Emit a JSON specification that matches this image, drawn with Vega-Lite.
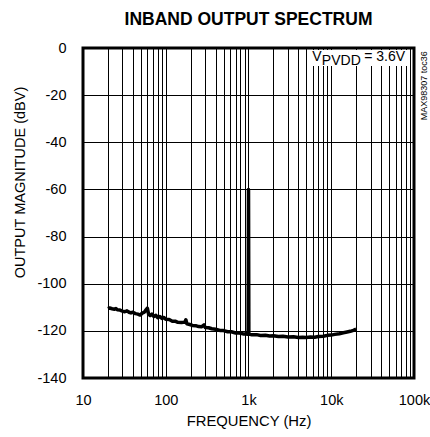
{
  "$schema": "https://vega.github.io/schema/vega-lite/v6.json",
  "width": 331,
  "height": 330,
  "autosize": {"type": "none"},
  "padding": {"left": 83, "top": 48, "right": 16, "bottom": 59},
  "background": "white",
  "title": {
    "text": "INBAND OUTPUT SPECTRUM",
    "font": "Liberation Sans",
    "fontSize": 17.5,
    "fontWeight": "bold",
    "color": "black",
    "anchor": "middle",
    "offset": 12
  },
  "config": {
    "view": {"stroke": "black", "strokeWidth": 3},
    "axis": {
      "labelFont": "Liberation Sans",
      "titleFont": "Liberation Sans",
      "labelColor": "black",
      "titleColor": "black",
      "titleFontWeight": "normal",
      "gridColor": "black",
      "gridOpacity": 1,
      "gridWidth": 1,
      "ticks": false,
      "domain": false
    }
  },
  "datasets": {
    "curve": [
      {"f": 20, "db": -110.6}, {"f": 21, "db": -110.3}, {"f": 22.5, "db": -110.6}, {"f": 24, "db": -110.8},
      {"f": 25, "db": -110.5}, {"f": 26, "db": -111.1}, {"f": 28, "db": -111.2}, {"f": 30, "db": -111.6},
      {"f": 32, "db": -111.9}, {"f": 34, "db": -111.5}, {"f": 36, "db": -112.1}, {"f": 38, "db": -112.4},
      {"f": 40, "db": -112.1}, {"f": 43, "db": -112.7}, {"f": 46, "db": -112.9}, {"f": 49, "db": -113.3},
      {"f": 52, "db": -112.5}, {"f": 55, "db": -112.1}, {"f": 58, "db": -111.0}, {"f": 60, "db": -110.4},
      {"f": 62, "db": -112.9}, {"f": 65, "db": -113.5}, {"f": 68, "db": -112.9}, {"f": 72, "db": -113.9},
      {"f": 76, "db": -113.4}, {"f": 80, "db": -114.4}, {"f": 85, "db": -113.9}, {"f": 90, "db": -114.7},
      {"f": 95, "db": -114.3}, {"f": 100, "db": -115.1}, {"f": 110, "db": -115.2}, {"f": 120, "db": -115.9},
      {"f": 130, "db": -115.9}, {"f": 140, "db": -116.4}, {"f": 155, "db": -116.5}, {"f": 170, "db": -116.3},
      {"f": 175, "db": -115.3}, {"f": 180, "db": -117.0}, {"f": 195, "db": -117.3}, {"f": 210, "db": -117.7},
      {"f": 230, "db": -117.8}, {"f": 250, "db": -118.2}, {"f": 270, "db": -118.3}, {"f": 290, "db": -117.5},
      {"f": 300, "db": -118.6}, {"f": 330, "db": -118.7}, {"f": 360, "db": -119.1}, {"f": 400, "db": -119.3},
      {"f": 450, "db": -119.8}, {"f": 500, "db": -119.9}, {"f": 560, "db": -120.4}, {"f": 620, "db": -120.4},
      {"f": 700, "db": -120.9}, {"f": 780, "db": -120.9}, {"f": 860, "db": -121.3}, {"f": 930, "db": -121.3},
      {"f": 990, "db": -121.5}, {"f": 1000, "db": -60}, {"f": 1010, "db": -121.4}, {"f": 1100, "db": -121.7},
      {"f": 1250, "db": -121.6}, {"f": 1400, "db": -122.0}, {"f": 1600, "db": -121.9}, {"f": 1800, "db": -122.2},
      {"f": 2000, "db": -122.1}, {"f": 2300, "db": -122.4}, {"f": 2600, "db": -122.3}, {"f": 3000, "db": -122.6},
      {"f": 3500, "db": -122.5}, {"f": 4000, "db": -122.8}, {"f": 4500, "db": -122.7}, {"f": 5000, "db": -122.8},
      {"f": 5600, "db": -122.6}, {"f": 6300, "db": -122.7}, {"f": 7000, "db": -122.4}, {"f": 8000, "db": -122.3},
      {"f": 9000, "db": -121.9}, {"f": 10000, "db": -121.8}, {"f": 11000, "db": -121.5}, {"f": 12500, "db": -121.2},
      {"f": 14000, "db": -120.8}, {"f": 15500, "db": -120.5}, {"f": 17000, "db": -120.2}, {"f": 18500, "db": -119.8},
      {"f": 20000, "db": -119.3}
    ],
    "box": [{"f": 5740, "f2": 89500, "db": -0.9, "db2": -7.6}],
    "notes": [
      {"f": 5900, "db": -5.4, "label": "V"},
      {"f": 7700, "db": -7.1, "label": "PVDD"},
      {"f": 25000, "db": -5.4, "label": "= 3.6V"}
    ],
    "tag": [{"f": 132000, "db": -16, "label": "MAX98307 toc36"}]
  },
  "encoding": {
    "x": {
      "field": "f",
      "type": "quantitative",
      "scale": {"type": "log", "domain": [10, 100000], "nice": false},
      "axis": {
        "title": "FREQUENCY (Hz)",
        "titleFontSize": 14.8,
        "titlePadding": 7,
        "labelFontSize": 14.5,
        "labelPadding": 15,
        "labelFlush": false,
        "labelOverlap": false,
        "grid": true,
        "values": [10, 20, 30, 40, 50, 60, 70, 80, 90, 100, 200, 300, 400, 500, 600, 700, 800, 900, 1000, 2000, 3000, 4000, 5000, 6000, 7000, 8000, 9000, 10000, 20000, 30000, 40000, 50000, 60000, 70000, 80000, 90000, 100000],
        "labelExpr": "datum.value == 10 ? '10' : datum.value == 100 ? '100' : datum.value == 1000 ? '1k' : datum.value == 10000 ? '10k' : datum.value == 100000 ? '100k' : ''"
      }
    },
    "y": {
      "field": "db",
      "type": "quantitative",
      "scale": {"domain": [-140, 0], "nice": false},
      "axis": {
        "title": "OUTPUT MAGNITUDE (dBV)",
        "titleFontSize": 14.5,
        "titlePadding": 9,
        "titleY": 134,
        "labelFontSize": 14.5,
        "labelPadding": 17,
        "grid": true,
        "values": [-140, -120, -100, -80, -60, -40, -20, 0],
        "labelExpr": "'' + datum.value"
      }
    }
  },
  "layer": [
    {
      "data": {"name": "box"},
      "mark": {"type": "rect", "color": "white"},
      "encoding": {"x2": {"field": "f2"}, "y2": {"field": "db2"}}
    },
    {
      "data": {"name": "curve"},
      "mark": {"type": "line", "color": "black", "strokeWidth": 3.5, "strokeJoin": "round"}
    },
    {
      "data": {"name": "notes"},
      "mark": {"type": "text", "font": "Liberation Sans", "fontSize": 14, "align": "left", "baseline": "alphabetic", "color": "black"},
      "encoding": {"text": {"field": "label"}}
    },
    {
      "data": {"name": "tag"},
      "mark": {"type": "text", "font": "Liberation Sans", "fontSize": 9, "angle": 270, "align": "center", "baseline": "middle", "color": "black"},
      "encoding": {"text": {"field": "label"}}
    }
  ]
}
